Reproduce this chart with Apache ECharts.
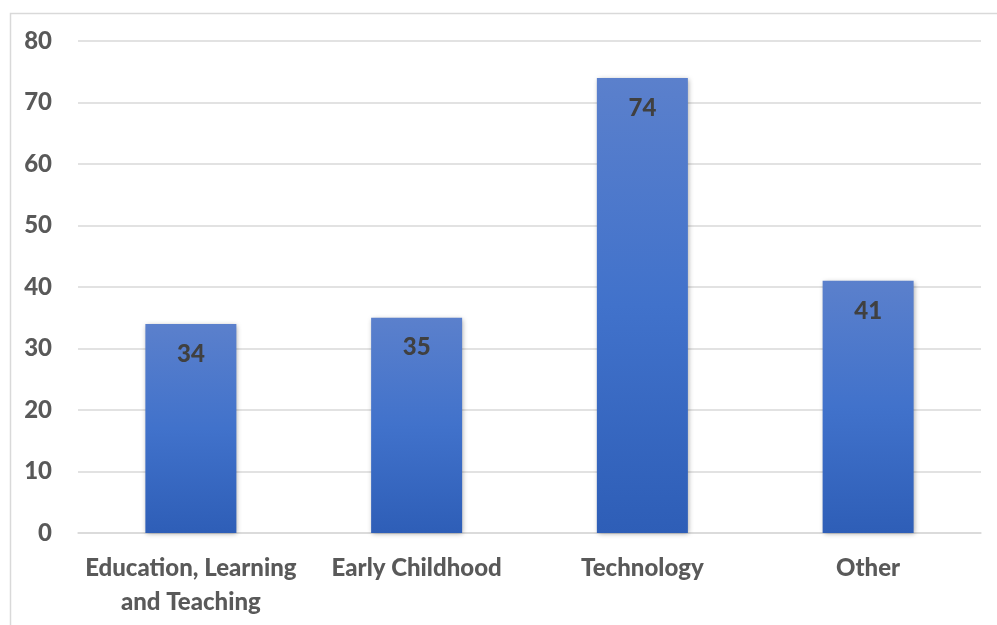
<!DOCTYPE html>
<html><head><meta charset="utf-8">
<script src="https://cdn.jsdelivr.net/npm/echarts@6/dist/echarts.min.js"></script>
<style>html,body{margin:0;padding:0;background:#fff}#c{width:997px;height:625px}</style>
</head><body><div id="c"></div>
<script>
const categories = ['Education, Learning\nand Teaching', 'Early Childhood', 'Technology', 'Other'];
const values = [34, 35, 74, 41];
const yTicks = [0, 10, 20, 30, 40, 50, 60, 70, 80];

const chart = echarts.init(document.getElementById('c'), null, {renderer: 'canvas'});
const FONT = 'Lato';
chart.setOption({
  animation: false,
  backgroundColor: '#fff',
  graphic: [{
    type: 'rect', left: 8, top: 11, silent: true,
    shape: {width: 1000, height: 700},
    style: {fill: 'none', stroke: '#d9d9d9', lineWidth: 1.5}
  }],
  grid: {left: 78, right: 16, top: 41, bottom: 92, containLabel: false},
  xAxis: {
    type: 'category', data: categories,
    axisLine: {lineStyle: {color: '#d9d9d9', width: 1.5}},
    axisTick: {show: false},
    axisLabel: {color: '#595959', fontFamily: FONT, fontWeight: 900, fontSize: 24, lineHeight: 34, margin: 18, interval: 0}
  },
  yAxis: {
    type: 'value', min: yTicks[0], max: yTicks[yTicks.length - 1], interval: 10,
    axisLine: {show: false}, axisTick: {show: false},
    splitLine: {lineStyle: {color: '#d9d9d9', width: 1.5}},
    axisLabel: {color: '#595959', fontFamily: FONT, fontWeight: 900, fontSize: 24, margin: 26}
  },
  series: [{
    type: 'bar', data: values, barWidth: 91,
    itemStyle: {
      color: new echarts.graphic.LinearGradient(0, 0, 0, 1, [
        {offset: 0, color: '#5b80cc'}, {offset: 0.5, color: '#4172cb'}, {offset: 1, color: '#2e5eb7'}
      ]),
      shadowBlur: 5, shadowColor: 'rgba(0,0,0,0.35)', shadowOffsetX: 1, shadowOffsetY: 1
    },
    label: {show: true, position: 'insideTop', distance: 18, color: '#404040', fontFamily: FONT, fontWeight: 900, fontSize: 24}
  }]
});
</script></body></html>
